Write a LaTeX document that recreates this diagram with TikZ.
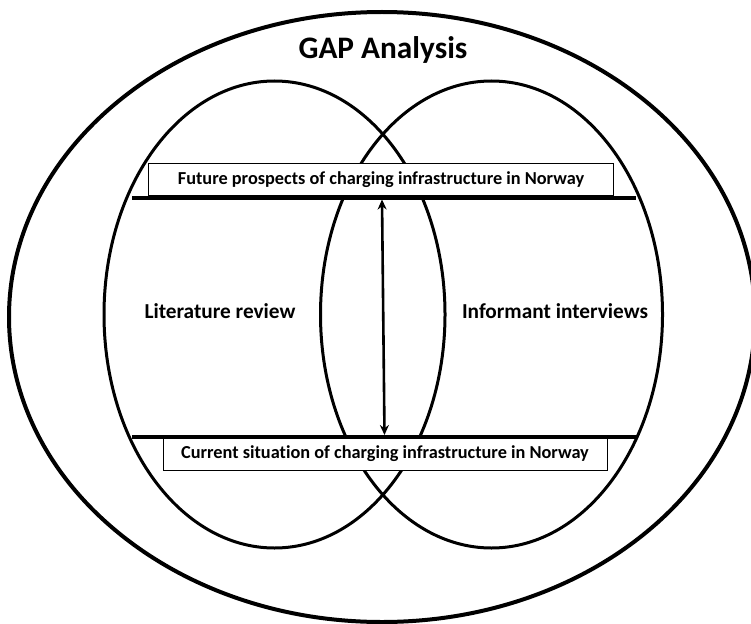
\documentclass[tikz,border=0pt]{standalone}
\usepackage{fontspec}
\setmainfont[Ligatures=NoCommon]{Carlito}
\usetikzlibrary{arrows.meta,shapes.geometric}
\begin{document}
\begin{tikzpicture}[x=1pt,y=-1pt,
  ring/.style={draw,ellipse,inner sep=0pt,line width=#1},
  ring/.default=3pt,
  labelbox/.style={draw,fill=white,line width=0.8pt,inner sep=0pt,
    font=\bfseries\fontsize{18.3}{22}\selectfont},
  sidelabel/.style={font=\bfseries\fontsize{21.3}{25}\selectfont},
  bar/.style={line width=4pt},
  gap/.style={line width=2.6pt,{Stealth[length=10pt,width=9pt]}-{Stealth[length=10pt,width=9pt]}}]
\useasboundingbox (0,0) rectangle (751,623);
% outer frame and the two overlapping sources
\node[ring=4pt,minimum width=746pt,minimum height=610pt] (outer) at (382,317) {};
\node[ring,minimum width=341pt,minimum height=467pt] (lit) at (274.5,314.5) {};
\node[ring,minimum width=342pt,minimum height=467pt] (inf) at (491.5,314.5) {};
% titles
\node[font=\bfseries\fontsize{31.3}{37}\selectfont] (title) at (383,50) {GAP Analysis};
\node[sidelabel] (litlabel) at (220,311) {Literature review};
\node[sidelabel] (inflabel) at (555,311) {Informant interviews};
% future and current states
\node[labelbox,minimum width=465pt,minimum height=32pt] (future) at (381,179.5) {Future prospects of charging infrastructure in Norway};
\node[labelbox,minimum width=444pt,minimum height=32pt] (current) at (385,454) {Current situation of charging infrastructure in Norway};
\coordinate (ftl) at (132,197.5);
\coordinate (ftr) at (636,197.5);
\coordinate (cbl) at (132,437);
\coordinate (cbr) at (637,437);
\draw[bar] (ftl) -- (ftr);
\draw[bar] (cbl) -- (cbr);
% the gap between them
\coordinate (gtop) at (382,199.5);
\coordinate (gbot) at (384.5,435);
\draw[gap] (gtop) -- (gbot);
\end{tikzpicture}
\end{document}
